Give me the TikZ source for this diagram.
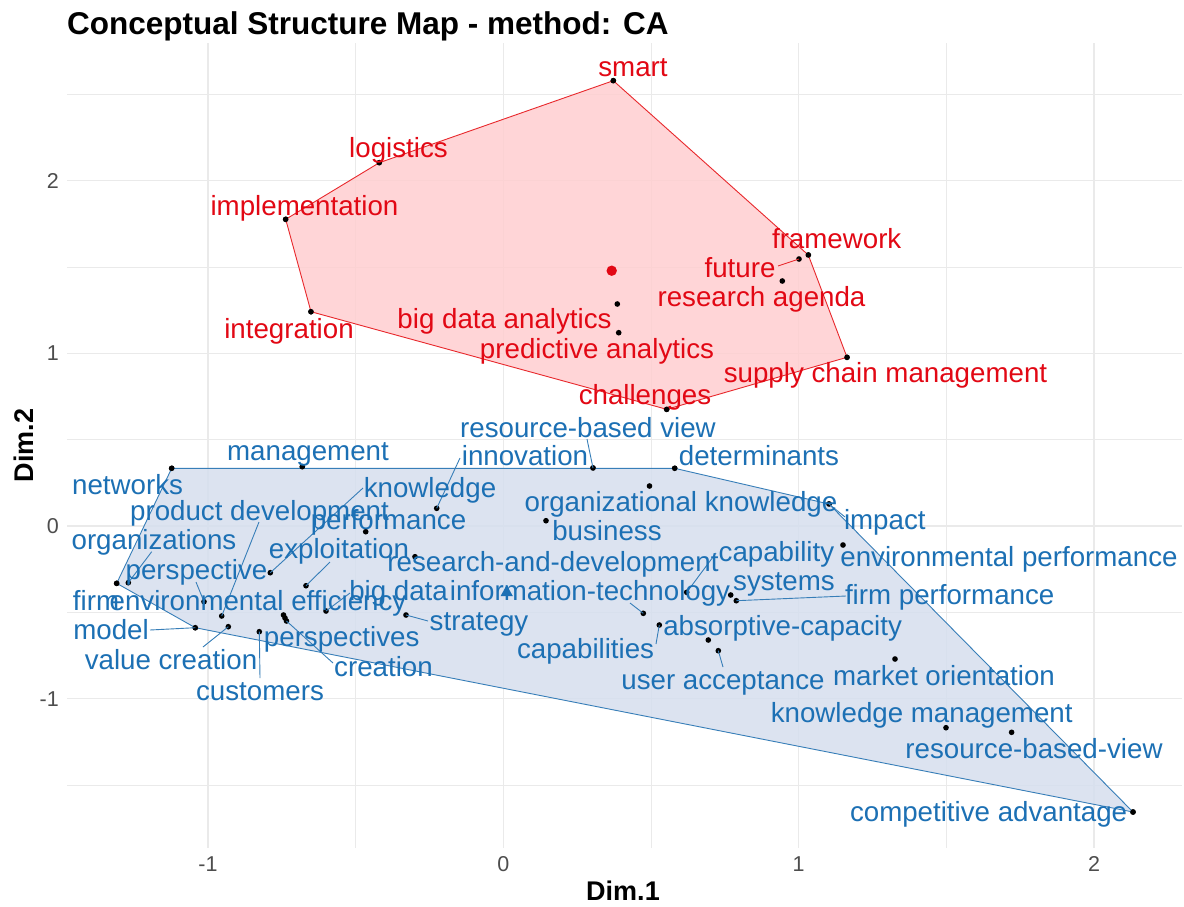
\documentclass[tikz,border=0pt]{standalone}
\usepackage{fontspec}
\setmainfont{Liberation Sans}
\definecolor{redtxt}{RGB}{226,8,20}
\definecolor{bluetxt}{RGB}{28,112,180}
\definecolor{redline}{RGB}{232,40,44}
\definecolor{blueline}{RGB}{55,126,184}
\definecolor{pinkfill}{RGB}{255,206,208}
\definecolor{bluefill}{RGB}{214,223,238}
\definecolor{gridc}{RGB}{234,234,234}
\definecolor{tickc}{RGB}{77,77,77}
\tikzset{
  pt/.style={circle, fill=black, inner sep=0pt, minimum size=5.6pt},
  rl/.style={text=redtxt, font=\fontsize{27.7}{30}\selectfont, inner sep=0pt, anchor=base},
  bl/.style={text=bluetxt, font=\fontsize{27.7}{30}\selectfont, inner sep=0pt, anchor=base},
  leadb/.style={draw=blueline, line width=0.9pt},
  leadr/.style={draw=redline, line width=0.9pt},
  gridmaj/.style={draw=gridc, line width=1.4pt},
  gridmin/.style={draw=gridc, line width=1.0pt},
  tick/.style={text=tickc, font=\fontsize{21.5}{23}\selectfont, inner sep=0pt},
  axlab/.style={font=\bfseries\fontsize{27}{29}\selectfont, inner sep=0pt, anchor=base}
}
\begin{document}
\begin{tikzpicture}[x=1pt,y=-1pt]
\useasboundingbox (0,0) rectangle (1184,906);
\fill[white] (0,0) rectangle (1184,906);

% grid
\foreach \gx in {355.7,651,946.3} {\draw[gridmin] (\gx,43) -- (\gx,848);}
\foreach \gx in {208,503.3,798.7,1094} {\draw[gridmaj] (\gx,43) -- (\gx,848);}
\foreach \gy in {94.2,267,439.6,612.4,785} {\draw[gridmin] (67,\gy) -- (1182,\gy);}
\foreach \gy in {180.6,353.3,526,698.7} {\draw[gridmaj] (67,\gy) -- (1182,\gy);}

% tick labels
\node[tick, anchor=east] (ty2) at (59,180.6) {2};
\node[tick, anchor=east] (ty1) at (59,353.3) {1};
\node[tick, anchor=east] (ty0) at (59,526) {0};
\node[tick, anchor=east] (tym1) at (59,698.7) {-1};
\node[tick] (txm1) at (208,864) {-1};
\node[tick] (tx0) at (503.3,864) {0};
\node[tick] (tx1) at (798.7,864) {1};
\node[tick] (tx2) at (1094,864) {2};
\node[axlab] (xlab) at (623,900) {Dim.1};
\node[axlab, rotate=90] (ylab) at (33,445.5) {Dim.2};
\node[font=\bfseries\fontsize{31.5}{34}\selectfont, inner sep=0pt, anchor=base west] (title) at (67,34) {Conceptual Structure Map - method: CA};

% ---------- red cluster points ----------
\node[pt] (p-smart) at (613.3,80.7) {};
\node[pt] (p-logistics) at (379.3,162.7) {};
\node[pt] (p-implementation) at (285.7,219.3) {};
\node[pt] (p-integration) at (311,311.7) {};
\node[pt] (p-framework) at (808.3,255) {};
\node[pt] (p-future) at (799,259) {};
\node[pt] (p-agenda) at (782.3,281) {};
\node[pt] (p-scm) at (847,357.3) {};
\node[pt] (p-challenges) at (666.7,409.3) {};
\node[pt] (p-bda) at (617.3,304) {};
\node[pt] (p-pa) at (618.7,332.7) {};

% ---------- blue cluster points ----------
\node[pt] (p-networks) at (171.7,468.3) {};
\node[pt] (p-management) at (302.3,466.7) {};
\node[pt] (p-knowledge) at (270.3,572.7) {};
\node[pt] (p-proddev) at (221.7,616) {};
\node[pt] (p-performance) at (365.7,531.7) {};
\node[pt] (p-organizations) at (128.3,582.7) {};
\node[pt] (p-exploitation) at (306,585.7) {};
\node[pt] (p-perspective) at (204,601.7) {};
\node[pt] (p-firm) at (116.7,583.3) {};
\node[pt] (p-enveff) at (283.5,615) {};
\node[pt] (p-model) at (195.3,627.7) {};
\node[pt] (p-valuecreation) at (228.3,626.7) {};
\node[pt] (p-customers) at (259.3,631.7) {};
\node[pt] (p-perspectives) at (285,618) {};
\node[pt] (p-creation) at (286.5,621) {};
\node[pt] (p-bigdata) at (326,611) {};
\node[pt] (p-strategy) at (406,615) {};
\node[pt] (p-innovation) at (436.7,508.3) {};
\node[pt] (p-rbv) at (593,468) {};
\node[pt] (p-determinants) at (674.7,468.3) {};
\node[pt] (p-orgknow) at (649.5,486) {};
\node[pt] (p-business) at (546,520.7) {};
\node[pt] (p-rnd) at (415,556.7) {};
\node[pt] (p-infotech) at (643.3,613.3) {};
\node[pt] (p-capability) at (686.7,592.3) {};
\node[pt] (p-systems) at (730.7,595) {};
\node[pt] (p-impact) at (829,504) {};
\node[pt] (p-envperf) at (843,545) {};
\node[pt] (p-firmperf) at (736.3,600.7) {};
\node[pt] (p-absorptive) at (708.3,640) {};
\node[pt] (p-capabilities) at (659.3,625) {};
\node[pt] (p-useracc) at (718.3,650.7) {};
\node[pt] (p-marketor) at (895,659) {};
\node[pt] (p-knowman) at (946,727.7) {};
\node[pt] (p-rbv2) at (1011.6,732.3) {};
\node[pt] (p-compadv) at (1133,812) {};

% ---------- hulls ----------
\fill[pinkfill, opacity=0.85] (p-smart.center) -- (p-framework.center) -- (p-scm.center) -- (p-challenges.center) -- (p-integration.center) -- (p-implementation.center) -- (p-logistics.center) -- cycle;
\draw[redline, line width=0.9pt] (p-smart.center) -- (p-framework.center) -- (p-scm.center) -- (p-challenges.center) -- (p-integration.center) -- (p-implementation.center) -- (p-logistics.center) -- cycle;
\fill[bluefill, opacity=0.85] (p-networks.center) -- (p-determinants.center) -- (p-impact.center) -- (p-compadv.center) -- (p-model.center) -- (p-firm.center) -- cycle;
\draw[blueline, line width=0.9pt] (p-networks.center) -- (p-determinants.center) -- (p-impact.center) -- (p-compadv.center) -- (p-model.center) -- (p-firm.center) -- cycle;

% redraw points on top of fills
\foreach \p in {smart,logistics,implementation,integration,framework,future,agenda,scm,challenges,bda,pa,networks,management,knowledge,proddev,performance,organizations,exploitation,perspective,firm,enveff,model,valuecreation,customers,perspectives,creation,bigdata,strategy,innovation,rbv,determinants,orgknow,business,rnd,infotech,capability,systems,impact,envperf,firmperf,absorptive,capabilities,useracc,marketor,knowman,rbv2,compadv}
  {\fill[black] (p-\p.center) circle (2.8pt);}

% ---------- leader lines ----------
\coordinate (c-future) at (778,266);
\coordinate (c-organizations) at (151.7,551.7);
\coordinate (c-perspective) at (196,582);
\coordinate (c-proddev) at (259,522);
\coordinate (c-knowledge) at (363,488);
\coordinate (c-exploitation) at (330,562);
\coordinate (c-bigdata) at (350,593);
\coordinate (c-model) at (150,630);
\coordinate (c-valuecreation) at (203,647);
\coordinate (c-customers) at (260,678);
\coordinate (c-creation) at (333,663);
\coordinate (c-strategy) at (428,621);
\coordinate (c-innovation) at (460,458);
\coordinate (c-rbv) at (587,439);
\coordinate (c-infotech) at (630,603);
\coordinate (c-capabilities) at (656,644);
\coordinate (c-capability) at (716,553);
\coordinate (c-firmperf) at (846,596);
\coordinate (c-impact) at (845,517);
\coordinate (c-useracc) at (723,667);

\draw[leadr] (c-future) -- (p-future.center);
\foreach \p in {organizations,perspective,proddev,knowledge,exploitation,bigdata,model,valuecreation,customers,creation,strategy,innovation,rbv,infotech,capabilities,capability,firmperf,impact,useracc}
  {\draw[leadb] (c-\p) -- (p-\p.center);}

% centroids
\fill[redtxt] (611.7,270.7) circle (5.2pt);
\fill[bluetxt] (506.7,585.0) -- (500.5,596.2) -- (512.9,596.2) -- cycle;

% ---------- red labels ----------
\node[rl] (l-smart) at (633,76) {smart};
\node[rl] (l-logistics) at (398.5,157) {logistics};
\node[rl] (l-implementation) at (304.5,215.5) {implementation};
\node[rl] (l-integration) at (289,338.3) {integration};
\node[rl] (l-framework) at (836.7,248) {framework};
\node[rl] (l-future) at (740,277) {future};
\node[rl] (l-agenda) at (761.5,306.7) {research agenda};
\node[rl] (l-scm) at (885.5,382) {supply chain management};
\node[rl] (l-challenges) at (645,404) {challenges};
\node[rl] (l-bda) at (504.5,328.3) {big data analytics};
\node[rl] (l-pa) at (597,358.3) {predictive analytics};

% ---------- blue labels ----------
\node[bl] (l-networks) at (127.6,494.3) {networks};
\node[bl] (l-management) at (308,460.5) {management};
\node[bl] (l-organizations) at (154,549) {organizations};
\node[bl] (l-proddev) at (259.5,520) {product development};
\node[bl] (l-perspective) at (196.5,579) {perspective};
\node[bl] (l-firm) at (96,610) {firm};
\node[bl] (l-enveff) at (258,610) {environmental efficiency};
\node[bl] (l-model) at (111,639) {model};
\node[bl] (l-valuecreation) at (171,669) {value creation};
\node[bl] (l-customers) at (260,700) {customers};
\node[bl] (l-perspectives) at (341.7,646) {perspectives};
\node[bl] (l-creation) at (383.5,676) {creation};
\node[bl] (l-bigdata) at (398.6,600) {big data};
\node[bl] (l-strategy) at (479,630) {strategy};
\node[bl] (l-exploitation) at (339,558) {exploitation};
\node[bl] (l-knowledge) at (430,497.5) {knowledge};
\node[bl] (l-performance) at (388.5,529) {performance};
\node[bl] (l-innovation) at (525,465.7) {innovation};
\node[bl] (l-rbv) at (588,437.3) {resource-based view};
\node[bl] (l-determinants) at (759,465.3) {determinants};
\node[bl] (l-orgknow) at (681,511.7) {organizational knowledge};
\node[bl] (l-business) at (607,540) {business};
\node[bl] (l-rnd) at (553,571.7) {research-and-development};
\node[bl] (l-infotech) at (590,600) {information-technology};
\node[bl] (l-capability) at (776.4,561) {capability};
\node[bl] (l-systems) at (784,590) {systems};
\node[bl] (l-impact) at (884.8,529) {impact};
\node[bl] (l-envperf) at (1009,566.7) {environmental performance};
\node[bl] (l-firmperf) at (949.7,604) {firm performance};
\node[bl] (l-absorptive) at (782.6,635) {absorptive-capacity};
\node[bl] (l-capabilities) at (585.6,658.3) {capabilities};
\node[bl] (l-useracc) at (723,689) {user acceptance};
\node[bl] (l-marketor) at (944,685) {market orientation};
\node[bl] (l-knowman) at (921.7,722.7) {knowledge management};
\node[bl] (l-rbv2) at (1034,758) {resource-based-view};
\node[bl] (l-compadv) at (988.6,821.7) {competitive advantage};
\end{tikzpicture}
\end{document}
